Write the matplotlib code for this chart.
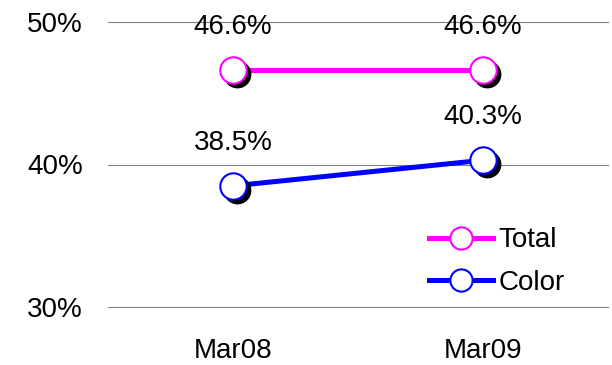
import matplotlib.pyplot as plt
import matplotlib.transforms as mtransforms

months = ['Mar08', 'Mar09']
total = [46.6, 46.6]
color = [38.5, 40.3]
y_ticks = [30, 40, 50]

plt.rcParams['font.family'] = ['Liberation Sans', 'DejaVu Sans']
FS = 20

fig = plt.figure(figsize=(6.12, 3.65), dpi=100)
ax = fig.add_axes([108 / 612, 58 / 365, 500 / 612, 285 / 365])

x = list(range(len(months)))
# black drop shadow under each marker, shifted right/down a few pixels
shadow = mtransforms.offset_copy(ax.transData, fig=fig, x=4, y=-4, units='dots')

series = [(total, '#ff00ff', 'Total'), (color, '#0000ff', 'Color')]
for vals, c, name in series:
    ax.plot(x, vals, 'o', ms=19, color='black', transform=shadow, zorder=3)
    ax.plot(x, vals, '-', color=c, lw=3.6, zorder=2)
    ax.plot(x, vals, 'o', ms=19, mfc='white', mec=c, mew=1.5, ls='none', zorder=4)
    for xi, v in zip(x, vals):
        ax.annotate(f'{v:.1f}%', (xi, v), xytext=(0, 31), textcoords='offset points',
                    ha='center', va='center', fontsize=FS)

# legend proxies: line with hollow marker, no shadow
handles = [ax.plot([], [], '-o', color=c, lw=3.6, ms=16, mfc='white', mec=c, mew=1.5)[0]
           for _, c, _ in series]
ax.legend(handles, [s[2] for s in series], loc='lower right', bbox_to_anchor=(0.935, 0.0),
          frameon=False, fontsize=FS, handlelength=2.3, handletextpad=0.2,
          labelspacing=0.6, borderaxespad=0)

ax.set_ylim(30, 50)
ax.set_xlim(-0.5, 1.5)
ax.set_yticks(y_ticks)
ax.set_yticklabels([f'{t}%' for t in y_ticks])
ax.set_xticks(x)
ax.set_xticklabels(months)
ax.tick_params(axis='y', length=0, pad=18, labelsize=FS)
ax.tick_params(axis='x', length=0, pad=22, labelsize=FS)
for t in y_ticks:
    ax.axhline(t, color='#808080', lw=0.8, clip_on=False, zorder=1)
for s in ax.spines.values():
    s.set_visible(False)

fig.savefig('out.png', dpi=100)
